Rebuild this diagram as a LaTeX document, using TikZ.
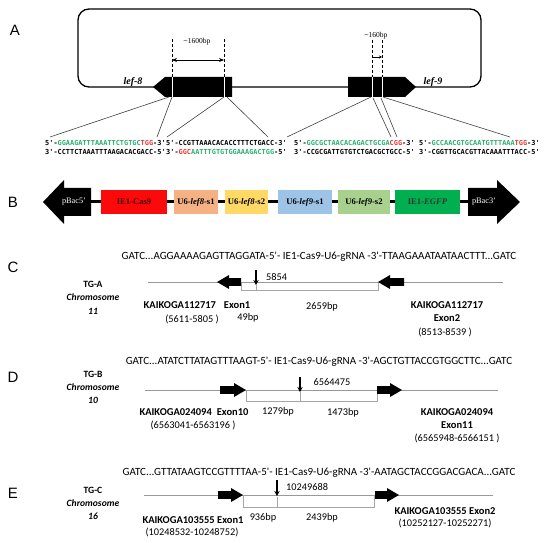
\documentclass[tikz,border=0pt]{standalone}
\usepackage{fontspec}
\setmainfont{Liberation Serif}
\newfontfamily\calf{Carlito}
\newfontfamily\dmono{DejaVu Sans Mono}
\newfontfamily\arialf{Liberation Sans}
\usetikzlibrary{arrows.meta}
\definecolor{sg}{RGB}{40,175,110}
\definecolor{sr}{RGB}{235,50,50}
\definecolor{cred}{RGB}{250,10,10}
\definecolor{csal}{RGB}{244,177,131}
\definecolor{cyel}{RGB}{255,217,102}
\definecolor{cblu}{RGB}{157,195,230}
\definecolor{clgr}{RGB}{169,209,142}
\definecolor{cgrn}{RGB}{0,176,80}
\newcommand{\exonleft}[3]{\fill (#1,#3) -- (#1+12,#3-7) -- (#1+12,#3-3.8) -- (#2,#3-3.8) -- (#2,#3+3.8) -- (#1+12,#3+3.8) -- (#1+12,#3+7) -- cycle;}
\newcommand{\exonright}[3]{\fill (#1,#3) -- (#1-12,#3-7) -- (#1-12,#3-3.8) -- (#2,#3-3.8) -- (#2,#3+3.8) -- (#1-12,#3+3.8) -- (#1-12,#3+7) -- cycle;}
\begin{document}
\begin{tikzpicture}[x=1pt,y=-1pt,
  panel/.style={font=\arialf\fontsize{15}{15}\selectfont, inner sep=0},
  dna/.style={font=\dmono\bfseries\fontsize{6.9}{7}\selectfont, inner sep=0, anchor=west},
  cut/.style={draw=white, line width=0.8pt},
  guide/.style={line width=0.9pt, dash pattern=on 3pt off 2pt},
  link/.style={draw=black!75, line width=0.6pt},
  gname/.style={font=\bfseries\itshape\fontsize{10}{10}\selectfont, inner sep=0},
  bp/.style={font=\fontsize{7.5}{8}\selectfont, inner sep=0},
  cas/.style={minimum height=24pt, inner sep=0, font=\bfseries\fontsize{8.6}{8.6}\selectfont},
  pbac/.style={text=white, inner sep=0, font=\fontsize{8.3}{8.3}\selectfont},
  gseq/.style={font=\calf\fontsize{11}{11}\selectfont, inner sep=0},
  tg/.style={font=\calf\bfseries\fontsize{9.6}{9.6}\selectfont, inner sep=0},
  kai/.style={font=\calf\bfseries\fontsize{10.5}{10.5}\selectfont, inner sep=0},
  num/.style={font=\calf\fontsize{10.3}{10.3}\selectfont, inner sep=0},
  chrline/.style={draw=black!40, line width=0.9pt},
  brk/.style={draw=black!35, line width=0.8pt},
  site/.style={-{Stealth[length=5pt,width=5.5pt]}, line width=1.2pt}
]
\useasboundingbox (0,0) rectangle (550,543);

%% ---------------- Panel A ----------------
\node[panel] (pa) at (15,30) {A};
\draw[line width=1.3pt, rounded corners=11pt] (78,9) rectangle (481,87);
\fill (153,87) -- (165,77) -- (232,77) -- (232,97) -- (165,97) -- cycle;
\fill (348,77) -- (405,77) -- (416,87) -- (405,97) -- (348,97) -- cycle;
\draw[cut] (172,77) -- (172,97);
\draw[cut] (224,77) -- (224,97);
\draw[cut] (372,77) -- (372,97);
\draw[cut] (382,77) -- (382,97);
\draw[guide] (172,39) -- (172,77);
\draw[guide] (224,39) -- (224,77);
\draw[guide] (372,40) -- (372,77);
\draw[guide] (382,40) -- (382,77);
\draw[{Stealth[length=5pt,width=4pt]}-{Stealth[length=5pt,width=4pt]}, line width=0.8pt] (172,60) -- (224,60);
\draw[-{Stealth[length=3pt,width=3pt]}, line width=0.8pt] (372,57) -- (382,57);
\node[bp] (b1600) at (197,42) {\textasciitilde1600bp};
\node[bp] (b160) at (376,36) {\textasciitilde160bp};
\node[gname] (lef8) at (133,82) {lef-8};
\node[gname] (lef9) at (433,82) {lef-9};

\draw[link] (169,97) -- (50,137);
\draw[link] (172,97) -- (157,137);
\draw[link] (224,97) -- (167,137);
\draw[link] (227,97) -- (268,137);
\draw[link] (371,97) -- (287,137);
\draw[link] (373,98) -- (391,137);
\draw[link] (381,98) -- (397,137);
\draw[link] (383,97) -- (510,137);

\node[dna] (s1a) at (45,143) {5'-\textcolor{sg}{GGAAGATTTAAATTCTGTGC}\textcolor{sr}{TGG}-3'};
\node[dna] (s1b) at (45,152) {3'-CCTTCTAAATTTAAGACACGACC-5'};
\node[dna] (s2a) at (166,143) {5'-CCGTTAAACACACCTTTCTGACC-3'};
\node[dna] (s2b) at (166,152) {3'-\textcolor{sr}{GGC}\textcolor{sg}{AATTTGTGTGGAAAGACTGG}-5'};
\node[dna] (s3a) at (294,143) {5'-\textcolor{sg}{GGCGCTAACACAGACTGCGA}\textcolor{sr}{CGG}-3'};
\node[dna] (s3b) at (294,152) {3'-CCGCGATTGTGTCTGACGCTGCC-5'};
\node[dna] (s4a) at (419,143) {5'-\textcolor{sg}{GCCAACGTGCAATGTTTAAA}\textcolor{sr}{TGG}-3'};
\node[dna] (s4b) at (419,152) {3'-CGGTTGCACGTTACAAATTTACC-5'};

%% ---------------- Panel B ----------------
\node[panel] (pb) at (13,202) {B};
\draw[line width=3pt] (91,202) -- (468,202);
\fill (43,202) -- (64,180) -- (64,188) -- (91,188) -- (91,216) -- (64,216) -- (64,224) -- cycle;
\fill (520,202) -- (497,180) -- (497,188) -- (468,188) -- (468,216) -- (497,216) -- (497,224) -- cycle;
\node[pbac] (p5) at (74,202) {pBac5'};
\node[pbac] (p3) at (484,202) {pBac3'};
\node[cas, fill=cred, minimum width=66pt, text=black!70!red] (b1) at (134,202) {IE1-Cas9};
\node[cas, fill=csal, minimum width=44pt] (b2) at (196,202) {U6-\textit{lef8}-s1};
\node[cas, fill=cyel, minimum width=43pt] (b3) at (246.5,202) {U6-\textit{lef8}-s2};
\node[cas, fill=cblu, minimum width=54pt] (b4) at (305,202) {U6-\textit{lef9}-s1};
\node[cas, fill=clgr, minimum width=52pt] (b5) at (364,202) {U6-\textit{lef9}-s2};
\node[cas, fill=cgrn, minimum width=65pt, text=black!80] (b6) at (427.5,202) {IE1-\textit{EGFP}};

%% ---------------- Panel C ----------------
\node[panel] (pc) at (13,267) {C};
\node[gseq] (sc) at (319,257) {GATC...AGGAAAAGAGTTAGGATA-5'- IE1-Cas9-U6-gRNA -3'-TTAAGAAATAATAACTTT...GATC};
\node[tg] (tga) at (93,284) {TG-A};
\node[tg] (tgac) at (93,297) {\itshape Chromosome};
\node[tg] (tgan) at (93,311) {\itshape 11};
\draw[chrline] (148,282) -- (503,282);
\draw[brk] (241,282) -- (241,290) -- (378,290) -- (378,282);
\draw[brk] (256,285) -- (256,290);
\exonleft{217}{241}{282}
\exonleft{378}{404}{282}
\draw[site] (256,270) -- (256,285);
\node[num, anchor=west] (cs) at (266,277) {5854};
\node[kai] (ce1) at (197,305) {KAIKOGA112717\hspace{8pt}Exon1};
\node[num] (ce1r) at (192,319) {(5611-5805 )};
\node[num] (c49) at (248,318) {49bp};
\node[num] (c2659) at (322,307) {2659bp};
\node[kai] (ce2) at (447,305) {KAIKOGA112717};
\node[kai] (ce2b) at (447,318) {Exon2};
\node[num] (ce2r) at (445,332) {(8513-8539 )};

%% ---------------- Panel D ----------------
\node[panel] (pd) at (13,377) {D};
\node[gseq] (sd) at (319,362) {GATC...ATATCTTATAGTTTAAGT-5'- IE1-Cas9-U6-gRNA -3'-AGCTGTTACCGTGGCTTC...GATC};
\node[tg] (tgb) at (93,374) {TG-B};
\node[tg] (tgbc) at (93,387) {\itshape Chromosome};
\node[tg] (tgbn) at (93,400) {\itshape 10};
\draw[chrline] (145,390) -- (498,390);
\draw[brk] (246,390) -- (246,401) -- (377,401) -- (377,390);
\draw[brk] (300,392) -- (300,401);
\exonright{246}{220}{390}
\exonright{402}{377}{390}
\draw[site] (300,377) -- (300,392);
\node[num] (ds) at (332,382) {6564475};
\node[kai] (de1) at (194,412) {KAIKOGA024094\hspace{5pt}Exon10};
\node[num] (de1r) at (193,425) {(6563041-6563196 )};
\node[num] (d1279) at (278,412) {1279bp};
\node[num] (d1473) at (343,413) {1473bp};
\node[kai] (de2) at (457,412) {KAIKOGA024094};
\node[kai] (de2b) at (457,425) {Exon11};
\node[num] (de2r) at (457,438) {(6565948-6566151 )};

%% ---------------- Panel E ----------------
\node[panel] (pe) at (13,493) {E};
\node[gseq] (se) at (319,473) {GATC...GTTATAAGTCCGTTTTAA-5'- IE1-Cas9-U6-gRNA -3'-AATAGCTACCGGACGACA...GATC};
\node[tg] (tgc) at (93,490) {TG-C};
\node[tg] (tgcc) at (93,503) {\itshape Chromosome};
\node[tg] (tgcn) at (93,516) {\itshape 16};
\draw[chrline] (144,495) -- (493,495);
\draw[brk] (243,495) -- (243,507) -- (374,507) -- (374,495);
\draw[brk] (277,497) -- (277,507);
\exonright{243}{218}{495}
\exonright{399}{375}{495}
\draw[site] (277,480) -- (277,496);
\node[num, anchor=west] (es) at (286,487) {10249688};
\node[kai] (ee1) at (193,520) {KAIKOGA103555 Exon1};
\node[num] (ee1r) at (192,532) {(10248532-10248752)};
\node[num] (e936) at (263,518) {936bp};
\node[num] (e2439) at (322,518) {2439bp};
\node[kai] (ee2) at (445,511) {KAIKOGA103555 Exon2};
\node[num] (ee2r) at (445,523) {(10252127-10252271)};
\end{tikzpicture}
\end{document}
